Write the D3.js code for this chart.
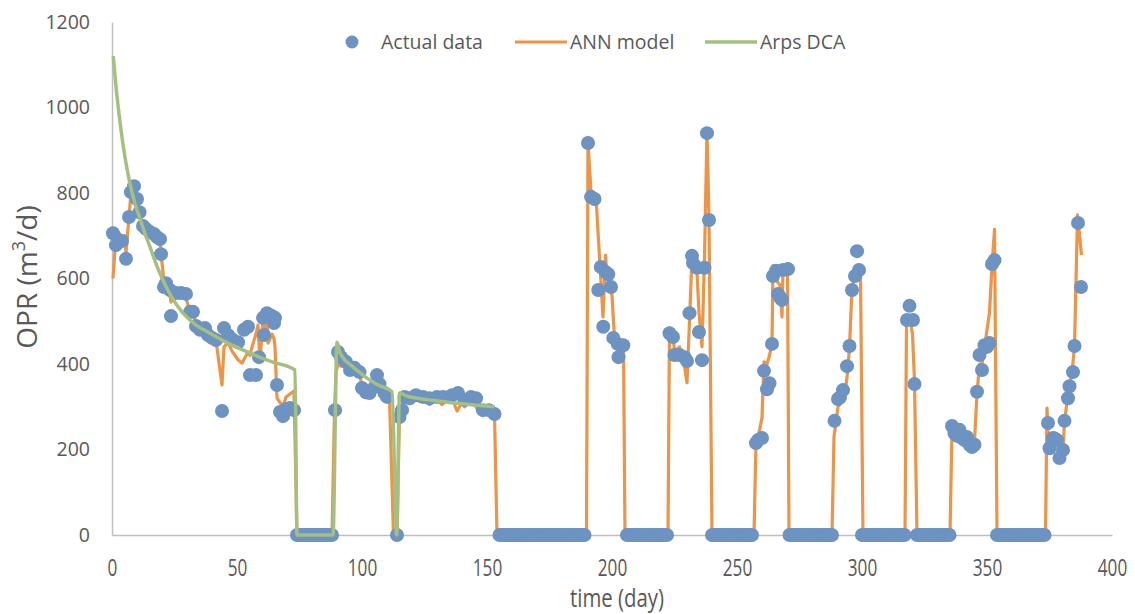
<!DOCTYPE html>
<html>
<head>
<meta charset="utf-8">
<script src="https://cdnjs.cloudflare.com/ajax/libs/d3/7.8.5/d3.min.js"></script>
<style>
  body { margin: 0; background: #fff; }
  text { fill: #595959; }
</style>
</head>
<body>
<svg id="viz"></svg>
<script>
// ----------------------------------------------------------------------------------------------------------------
// DATA

var xTicks = [0, 50, 100, 150, 200, 250, 300, 350, 400];
var yTicks = [0, 200, 400, 600, 800, 1000, 1200];
var seriesNames = ["Actual data", "ANN model", "Arps DCA"];

// measured rates [day, OPR]
var actualFlowing = [
  [0.4,706],[1.6,678],[2.6,690],[4,688],[5.6,646],[6.8,744],[7.6,802],[8.8,816],[10,786],[11,755],
  [12.4,723],[13.6,716],[15.2,709],[16.8,704],[18,697],[19.2,692],[19.6,657],[20.8,580],[21.6,589],[23.2,573],
  [23.6,512],[25.6,566],[27.6,566],[29.6,564],[31.2,522],[32.4,522],[33.6,489],[35.2,480],[37.2,484],[38.4,468],
  [40,461],[41.6,456],[44,290],[44.8,484],[46.4,468],[48,458],[50.4,451],[52.8,480],[54.4,487],[55.2,374],
  [57.6,374],[58.8,416],[60.4,508],[60.8,468],[62,519],[64,512],[64.8,496],[65.2,508],[66,351],[67.2,288],
  [68.4,278],[69.6,295],[71.2,297],[72.8,292],
  [89.2,292],[90.4,428],[91.6,416],[93.6,405],[95.2,386],[97,391],[99,381],[100,344],[101.6,334],[103,332],
  [105,346],[106,374],[107,353],[109,332],[110,323],[115,276],[116,292],[117,323],[119,320],[121.6,327],
  [124.4,323],[127,320],[130,323],[132.4,323],[136,327],[138.4,332],[141,316],[143.6,323],[145.6,320],[148.4,292],
  [150.8,292],[153,283],
  [190.4,917],[191.6,791],[193,786],[194.5,573],[195.5,627],[196.5,487],[197.5,615],[198.5,610],[199.6,580],[200.5,461],
  [202.3,447],[202.6,416],[204.5,444],
  [223,472],[224.4,463],[225,421],[227,421],[229,416],[230,407],[231,519],[232,653],[232.4,636],[234,625],
  [234.8,475],[236,409],[237,625],[238,940],[238.8,737],
  [257.6,215],[258.4,222],[260,227],[260.8,384],[262,341],[263,355],[264,447],[264.4,606],[265.6,618],[266.4,564],
  [267.2,556],[268,550],[268.4,620],[270.4,622],
  [289,267],[290.4,318],[291.2,322],[292.4,339],[294,395],[295,442],[296,573],[297.2,606],[298,664],[298.8,620],
  [318,503],[319,536],[320.4,503],[321,353],
  [336,255],[337,238],[338,232],[339,246],[340,227],[341,222],[342,229],[343,211],[344,206],[345,211],
  [346,335],[347,421],[348,386],[349,444],[350,440],[351,449],[352,634],[353,643],
  [374.4,262],[375,203],[376.4,227],[377,226],[378,222],[379,180],[380.4,199],[381,267],[382.4,320],[383,348],
  [384.4,381],[385,442],[386.4,730],[387.6,580]
];

// days where the well was shut in (OPR = 0)
var shutInDays = [
  74,75,76,77,78,79,80,81,82,83,84,85,86,87,88,
  114,
  155,156,157,158,159,160,161,162,163,164,165,166,167,168,169,170,171,172,173,174,175,176,177,178,179,180,181,182,183,184,185,186,187,188,189,
  206,207,208,209,210,211,212,213,214,215,216,217,218,219,220,221,222,
  240,241,242,243,244,245,246,247,248,249,250,251,252,253,254,255,256,
  271,272,273,274,275,276,277,278,279,280,281,282,283,284,285,286,287,288,
  300,301,302,303,304,305,306,307,308,309,310,311,312,313,314,315,316,317,
  322,323,324,325,326,327,328,329,330,331,332,333,334,335,
  354,355,356,357,358,359,360,361,362,363,364,365,366,367,368,369,370,371,372,373
];

// ANN model prediction [day, OPR]
var annModel = [
  [0.4,600],[1.6,700],[3,705],[4,690],[5,700],[5.6,660],[6.8,745],[7.6,800],[8.8,815],[10,790],
  [11,750],[12.4,725],[13.6,715],[15.2,710],[16.8,700],[18,695],[19.2,690],[19.6,660],[20.8,590],[21.6,585],
  [23.2,560],[23.6,545],[25.6,560],[27.6,560],[29.6,555],[31.2,520],[32.4,520],[33.6,495],[35.2,480],[37.2,475],
  [38.4,465],[40,460],[41.6,455],[44,351],[44.8,440],[46.4,450],[48,430],[50.4,410],[52,402],[54.4,428],
  [55.2,420],[56,440],[57.6,470],[58.4,491],[59.2,405],[60.4,505],[60.8,470],[62,520],[62.4,449],[64,470],
  [64.8,460],[65.2,440],[66,320],[67.2,310],[68.4,300],[69.6,323],[71.2,330],[72.8,337],[74,0],
  [88,0],[89,292],[89.6,380],[90.4,400],[91.6,395],[93.6,395],[95.2,375],[97,385],[99,375],[100,350],
  [101.6,345],[103,340],[105,345],[106,365],[107,350],[109,335],[110,325],[111,320],[112.6,0],[114,0],
  [115,280],[116,300],[117,320],[119,318],[121.6,320],[123,312],[124.4,320],[127,305],[130,318],[132,305],
  [134,315],[136,320],[138,290],[140,310],[141,300],[143.6,315],[145.6,300],[147,285],[148.4,290],[150.8,280],
  [153,285],[154,0],
  [189.8,0],[190.4,915],[191.6,805],[193.6,790],[195.2,630],[196.4,510],[197.4,655],[198,600],[199,590],[200,560],
  [201,460],[202,440],[203.2,425],[204.6,445],[205.2,0],
  [222.4,0],[223,485],[224.4,465],[225,430],[227,440],[229,395],[230,356],[231,500],[232,650],[232.4,660],
  [234,615],[234.8,520],[236,440],[237,650],[238,945],[238.8,740],[240,0],
  [256.8,0],[257.6,215],[259,245],[260,275],[260.8,405],[262,400],[263,420],[264,450],[264.4,630],[265.6,600],
  [266.4,590],[267.2,585],[268,510],[268.4,625],[270.2,625],[270.8,0],
  [288,0],[288.8,230],[290.4,300],[293,320],[294.2,380],[295,440],[296,575],[297.2,610],[298.4,625],[299.4,610],
  [300.4,0],
  [317.2,0],[317.8,500],[319,510],[320.2,470],[321,360],[322,0],
  [335.2,0],[336,250],[337,240],[339,245],[340,232],[342,230],[344,215],[345,220],[346,330],[347,400],
  [348,400],[349,440],[350,480],[351,520],[352,630],[353,715],[354,0],
  [373.4,0],[374,297],[374.6,215],[376,225],[377.6,225],[379,195],[380.4,200],[381,265],[382.4,330],[384,380],
  [385,440],[386.2,749],[387.8,655]
];

// Arps decline curve [day, OPR]
var arpsDca = [
  [0.5,1120],[1.5,1055],[2.5,1000],[3.5,952],[4.5,910],[5.9,860],[7.2,822],[8.5,790],[9.9,762],[11.2,740],
  [13,708],[15.2,674],[17.5,636],[20.4,596],[24,555],[28.4,519],[33,494],[39.2,472],[46,450],[55,426],
  [64,405],[73.2,386],[74,0],[88.4,0],[90,451],[91,430],[93,410],[95,400],[98,385],[102,367],
  [106,352],[112,335],[113.9,0],[115,332],[118,325],[122,320],[128,315],[135,310],[143,305],[153,300]
];



// ----------------------------------------------------------------------------------------------------------------
// INITIAL SETUP

var w = 1135;
var h = 614;
var viz = d3.select("#viz").attr("width", w).attr("height", h);

var x = d3.scaleLinear().domain([0, 400]).range([112, 1112]);
var y = d3.scaleLinear().domain([0, 1200]).range([535, 22]);

var actualData = actualFlowing.concat(shutInDays.map(function(d) { return [d, 0]; }));

var blue = "#6c93c1";
var orange = "#ee9444";
var green = "#a5c07e";
var axisGrey = "#bfbfbf";



// ----------------------------------------------------------------------------------------------------------------
// AXES

var yAxis = viz.append("g")
  .attr("transform", "translate(112,0)")
  .call(d3.axisLeft(y).tickValues(yTicks).tickFormat(d3.format("d")).tickSize(0).tickPadding(22));
yAxis.select(".domain").attr("stroke", axisGrey).attr("stroke-width", 1.5);
yAxis.selectAll("text")
  .attr("fill", "#595959")
  .style("font-family", "'Open Sans', sans-serif")
  .style("font-size", "19.5px");

var xAxis = viz.append("g")
  .attr("transform", "translate(0,535)")
  .call(d3.axisBottom(x).tickValues(xTicks).tickSize(0));
xAxis.select(".domain").attr("stroke", axisGrey).attr("stroke-width", 1.5);
// the x labels are tall and narrow in the original, so squeeze them
xAxis.selectAll("text")
  .attr("fill", "#595959")
  .attr("y", 37)
  .attr("dy", 0)
  .attr("transform", "scale(0.78,1.1)")
  .style("font-family", "'Open Sans', sans-serif")
  .style("font-size", "22px");

// axis titles
viz.append("text")
  .attr("transform", "translate(617,607) scale(0.85,1.05)")
  .attr("text-anchor", "middle")
  .style("font-family", "'Open Sans', sans-serif")
  .style("font-size", "24px")
  .text("time (day)");

var yTitle = viz.append("text")
  .attr("transform", "translate(37,277) rotate(-90)")
  .attr("text-anchor", "middle")
  .style("font-family", "'Open Sans', sans-serif")
  .style("font-size", "28px");
yTitle.append("tspan").text("OPR (m");
yTitle.append("tspan").attr("baseline-shift", "super").style("font-size", "18px").text("3");
yTitle.append("tspan").text("/d)");



// ----------------------------------------------------------------------------------------------------------------
// SERIES

// ANN model line (under the dots)
var annLine = d3.line()
  .x(function(d) { return x(d[0]); })
  .y(function(d) { return y(d[1]); });

viz.append("path")
  .datum(annModel)
  .attr("d", annLine)
  .attr("fill", "none")
  .attr("stroke", orange)
  .attr("stroke-width", 3.2)
  .attr("stroke-linejoin", "round");

// actual data dots
viz.selectAll("circle.actual")
  .data(actualData)
  .enter()
  .append("circle")
  .attr("class", "actual")
  .attr("cx", function(d) { return x(d[0]); })
  .attr("cy", function(d) { return y(d[1]); })
  .attr("r", 7)
  .attr("fill", blue);

// Arps DCA curve (on top)
var arpsLine = d3.line()
  .curve(d3.curveMonotoneX)
  .x(function(d) { return x(d[0]); })
  .y(function(d) { return y(d[1]); });

viz.append("path")
  .datum(arpsDca)
  .attr("d", arpsLine)
  .attr("fill", "none")
  .attr("stroke", green)
  .attr("stroke-width", 3.5)
  .attr("stroke-linejoin", "round");



// ----------------------------------------------------------------------------------------------------------------
// LEGEND

var legend = viz.append("g")
  .style("font-family", "'Open Sans', sans-serif")
  .style("font-size", "19.5px");

legend.append("circle")
  .attr("cx", 352).attr("cy", 42).attr("r", 6.5)
  .attr("fill", blue);
legend.append("text")
  .attr("x", 381).attr("y", 49)
  .text(seriesNames[0]);

legend.append("line")
  .attr("x1", 515).attr("x2", 567).attr("y1", 42).attr("y2", 42)
  .attr("stroke", orange).attr("stroke-width", 3.2);
legend.append("text")
  .attr("x", 570).attr("y", 49)
  .text(seriesNames[1]);

legend.append("line")
  .attr("x1", 705).attr("x2", 757).attr("y1", 42).attr("y2", 42)
  .attr("stroke", green).attr("stroke-width", 3.5);
legend.append("text")
  .attr("x", 760).attr("y", 49)
  .text(seriesNames[2]);
</script>
</body>
</html>
